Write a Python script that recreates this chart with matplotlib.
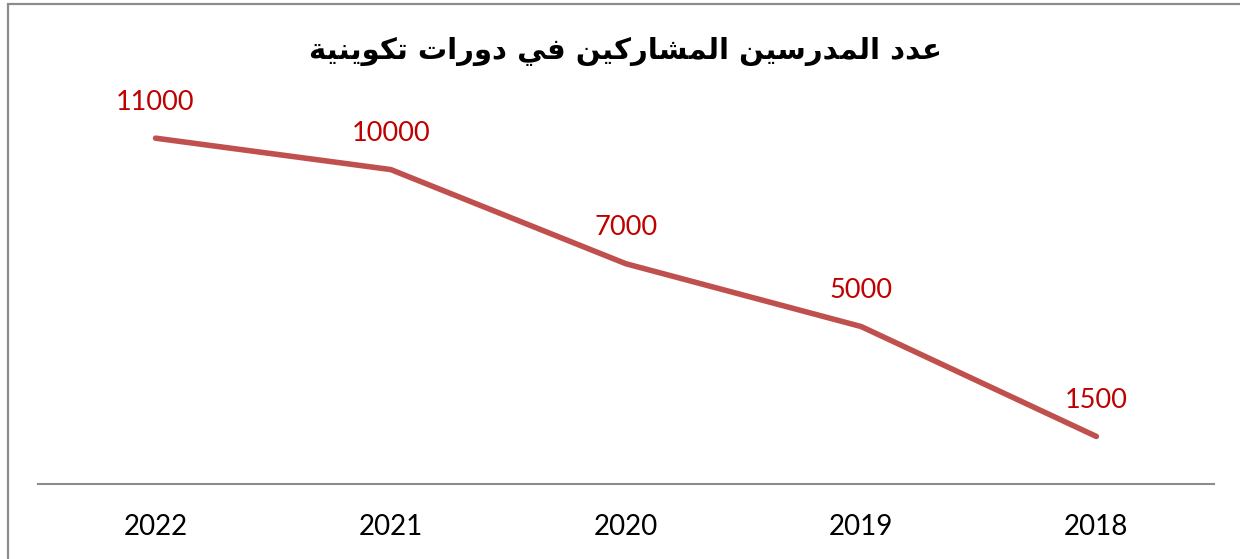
import matplotlib
matplotlib.use("Agg")
import matplotlib.pyplot as plt
from matplotlib.patches import Rectangle

# Datos
years = ['2022', '2021', '2020', '2019', '2018']
values = [11000, 10000, 7000, 5000, 1500]
title = 'عدد المدرسين المشاركين في دورات تكوينية'

# matplotlib no une las letras árabes: formas de presentación a mano
FORMS = {
    'ا': ('\uFE8D', '\uFE8E', None, None),
    'ت': ('\uFE95', '\uFE96', '\uFE97', '\uFE98'),
    'ة': ('\uFE93', '\uFE94', None, None),
    'د': ('\uFEA9', '\uFEAA', None, None),
    'ر': ('\uFEAD', '\uFEAE', None, None),
    'س': ('\uFEB1', '\uFEB2', '\uFEB3', '\uFEB4'),
    'ش': ('\uFEB5', '\uFEB6', '\uFEB7', '\uFEB8'),
    'ع': ('\uFEC9', '\uFECA', '\uFECB', '\uFECC'),
    'ف': ('\uFED1', '\uFED2', '\uFED3', '\uFED4'),
    'ك': ('\uFED9', '\uFEDA', '\uFEDB', '\uFEDC'),
    'ل': ('\uFEDD', '\uFEDE', '\uFEDF', '\uFEE0'),
    'م': ('\uFEE1', '\uFEE2', '\uFEE3', '\uFEE4'),
    'ن': ('\uFEE5', '\uFEE6', '\uFEE7', '\uFEE8'),
    'و': ('\uFEED', '\uFEEE', None, None),
    'ي': ('\uFEF1', '\uFEF2', '\uFEF3', '\uFEF4'),
}


def shape_word(word):
    out = []
    for i, ch in enumerate(word):
        prev = word[i - 1] if i > 0 else None
        nxt = word[i + 1] if i < len(word) - 1 else None
        joins_prev = prev is not None and FORMS[prev][2] is not None
        joins_next = nxt is not None and FORMS[ch][2] is not None
        iso, fin, ini, med = FORMS[ch]
        if joins_prev and joins_next:
            out.append(med)
        elif joins_prev:
            out.append(fin)
        elif joins_next:
            out.append(ini)
        else:
            out.append(iso)
    return ''.join(out)


def shape(text):
    words = [shape_word(w) for w in text.split(' ')]
    return ' '.join(words)[::-1]


fig = plt.figure(figsize=(12.4, 5.59), dpi=100)
ax = fig.add_axes([0.0306, 0.135, 0.9484, 0.674])

x = list(range(len(years)))
ax.plot(x, values, color='#C0504D', linewidth=4, solid_capstyle='round',
        solid_joinstyle='round')

for xi, v in zip(x, values):
    ax.annotate(str(v), (xi, v), xytext=(0, 26), textcoords='offset points',
                ha='center', va='center', color='#C00000', fontsize=19.5,
                family=['Lato', 'DejaVu Sans'])

ax.set_xlim(-0.5, len(years) - 0.5)
ax.set_ylim(0, 12000)
ax.set_xticks(x)
ax.set_xticklabels(years, fontsize=20, family=['Lato', 'DejaVu Sans'], color='black')
ax.tick_params(axis='x', length=0, pad=22)
ax.set_yticks([])
for s in ['top', 'right', 'left']:
    ax.spines[s].set_visible(False)
ax.spines['bottom'].set_color('#8C8C8C')
ax.spines['bottom'].set_linewidth(1.5)

fig.text(0.504, 0.908, shape(title), ha='center', va='center', fontsize=21,
         fontweight='bold', family=['DejaVu Sans'])

# marco gris del gráfico
fig.add_artist(Rectangle((8 / 1240, -0.1), 1.2, 1.1 - 4.5 / 559,
                         transform=fig.transFigure, fill=False,
                         edgecolor='#8C8C8C', linewidth=1.6))

fig.savefig('out.png', dpi=100)
